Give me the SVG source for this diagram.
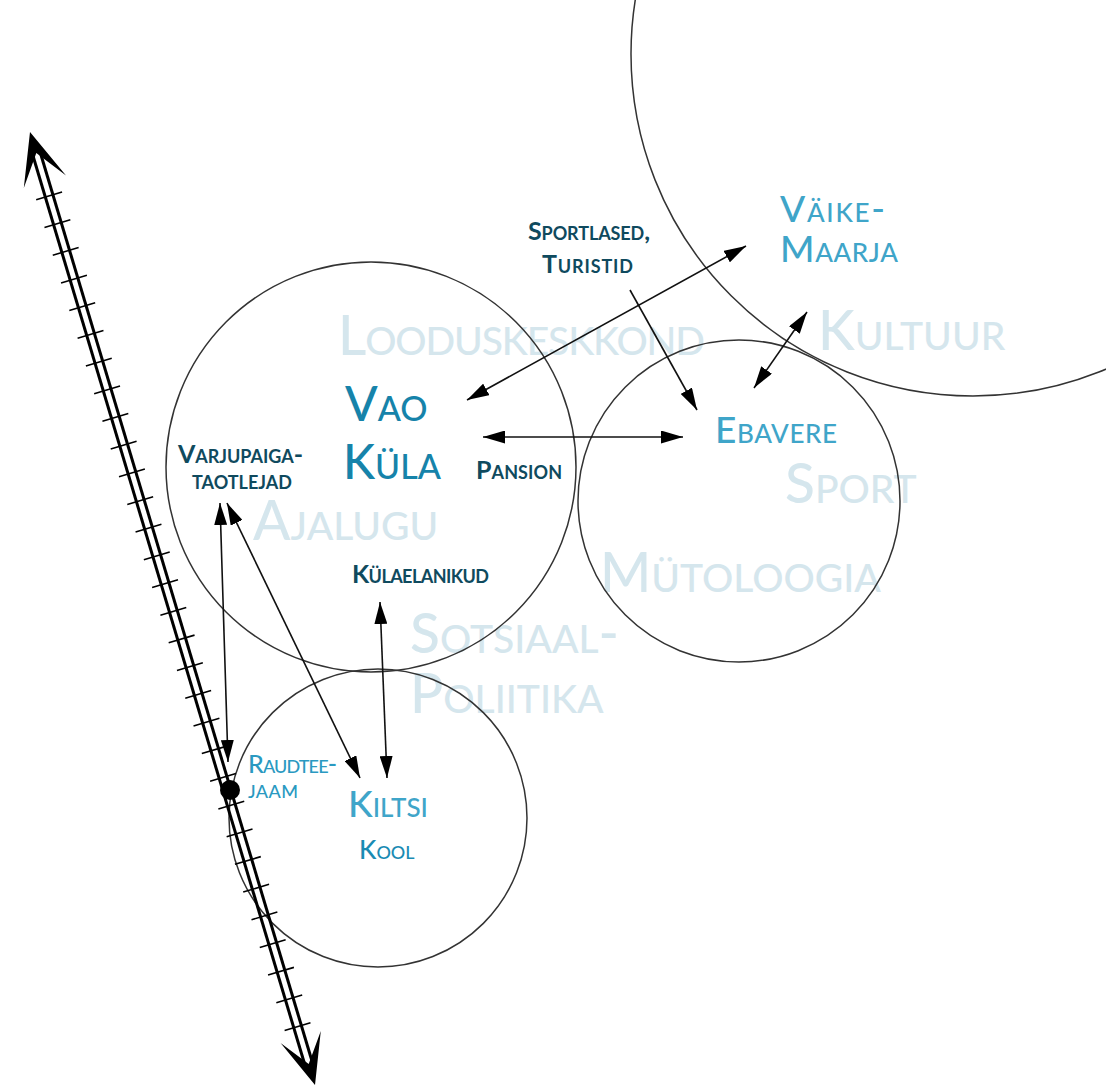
<svg xmlns="http://www.w3.org/2000/svg" width="1116" height="1089" viewBox="0 0 1116 1089">
<style>
text{font-family:Lato,"Open Sans","Liberation Sans",sans-serif;font-variant:small-caps}
.wm{fill:#d5e6ed;font-size:55px;font-weight:500}
.dk{fill:#0f4a5e;font-size:25px;font-weight:700}
.lt{fill:#3fa5c9;font-size:37px;font-weight:500}
.md{fill:#1683aa;font-size:48px;font-weight:500}
.ring{fill:none;stroke:#333;stroke-width:1.5}
.con{fill:none;stroke:#111;stroke-width:1.6;marker-end:url(#ah)}
.both{marker-start:url(#ah)}
.rail{stroke:#000;stroke-width:3;fill:none}
.rj{fill:#2a99c1;font-size:25px;font-weight:500}
</style>
<defs>
<marker id="ah" markerUnits="userSpaceOnUse" viewBox="0 0 22 13" refX="22" refY="6.5" markerWidth="22" markerHeight="13" orient="auto-start-reverse">
<path d="M0,0 L22,6.5 L0,13 z" fill="#000"/>
</marker>
<clipPath id="clip"><rect x="0" y="0" width="1106" height="1089"/></clipPath>
</defs>
<rect width="1116" height="1089" fill="#fff"/>
<g id="watermarks">
<text class="wm" x="338" y="355" textLength="367">Looduskeskkond</text>
<text class="wm" x="818" y="350">Kultuur</text>
<text class="wm" x="785" y="503">Sport</text>
<text class="wm" x="253" y="540">Ajalugu</text>
<text class="wm" x="600" y="592">Mütoloogia</text>
<text class="wm" x="410" y="653">Sotsiaal-</text>
<text class="wm" x="410" y="713">Poliitika</text>
</g>
<g id="areas">
<circle id="kultuur-ring" class="ring" cx="973" cy="54" r="342" clip-path="url(#clip)"/>
<circle id="vao-ring" class="ring" cx="371" cy="467" r="205"/>
<circle id="ebavere-ring" class="ring" cx="739" cy="501" r="161"/>
<circle id="kiltsi-ring" class="ring" cx="378" cy="818" r="149"/>
</g>
<g id="railway">
<line class="rail" x1="38.1" y1="145.2" x2="314.6" y2="1069.8"/>
<line class="rail" x1="30.5" y1="147.5" x2="307.0" y2="1072.0"/>
<line x1="48.9" y1="195.2" x2="298.2" y2="1028.8" stroke="#000" stroke-width="27" stroke-dasharray="1.6 27.3"/>
<polygon points="30,132 66,175.5 36.3,153.1 23.8,188.1" fill="#000"/>
<polygon points="315,1085 320.8,1031.1 308.7,1063.9 280.6,1043.1" fill="#000"/>
</g>
<g id="connectors">
<line class="con both" x1="467" y1="400" x2="746" y2="246"/>
<line class="con" x1="630" y1="290" x2="697" y2="410"/>
<line class="con both" x1="754" y1="388" x2="807" y2="312"/>
<line class="con both" x1="483" y1="437" x2="683" y2="437"/>
<line class="con both" x1="220" y1="503" x2="228" y2="762"/>
<line class="con both" x1="227" y1="503" x2="360" y2="778"/>
<line class="con both" x1="380" y1="602" x2="387" y2="778"/>
</g>
<g id="vao-kula"><text class="md"><tspan x="345" y="421">Vao</tspan><tspan x="343" y="479">Küla</tspan></text></g>
<g id="vaike-maarja"><text class="lt" font-size="38" x="780" y="222" textLength="105">Väike-</text><text class="lt" font-size="38" x="780" y="262" textLength="118">Maarja</text></g>
<g id="ebavere"><text class="lt" x="715" y="443" textLength="122">Ebavere</text></g>
<g id="kiltsi"><text class="lt" x="348" y="817">Kiltsi</text><text x="359" y="859" fill="#1a8bb3" font-size="26" font-weight="500">Kool</text></g>
<g id="raudteejaam"><circle cx="230" cy="790" r="10" fill="#000"/><text class="rj" x="248" y="773" textLength="89">Raudtee-</text><text class="rj" x="248" y="798" textLength="50">jaam</text></g>
<g id="sportlased"><text class="dk" x="528" y="240" textLength="122">Sportlased,</text><text class="dk" x="542" y="273" textLength="91">Turistid</text></g>
<g id="varjupaiga"><text class="dk" x="178" y="463" textLength="125">Varjupaiga-</text><text class="dk" x="192" y="489" textLength="100">taotlejad</text></g>
<g id="pansion"><text class="dk" x="476" y="479" textLength="86">Pansion</text></g>
<g id="kulaelanikud"><text class="dk" x="352" y="583" textLength="137">Külaelanikud</text></g>
</svg>
